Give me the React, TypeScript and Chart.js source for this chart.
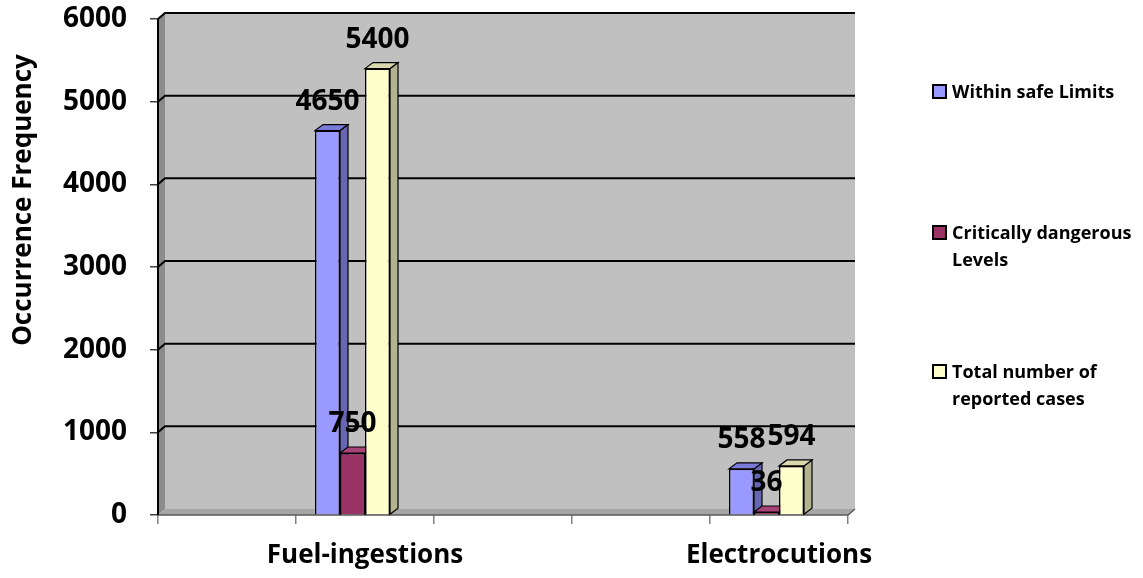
import React, { useEffect, useRef } from "react";
import { Chart, registerables } from "chart.js";

Chart.register(...registerables);

const categories = ["", "Fuel-ingestions", "", "", "Electrocutions"];
const withinSafe = [null, 4650, null, null, 558];
const criticalLevels = [null, 750, null, null, 36];
const totalCases = [null, 5400, null, null, 594];
const spacerSeries = [null, null, null, null, null];
const seriesNames = ["Within safe Limits", "Critically dangerous Levels", "Total number of reported cases"];
const legendLines = [["Within safe Limits"], ["Critically dangerous", "Levels"], ["Total number of", "reported cases"]];
const yTitle = "Occurrence Frequency";
const yMax = 6000;
const yStep = 1000;

const frontColors = ["#9999FF", "#993366", "#FFFFCC"];
const sideColors = ["#6666B3", "#6B2447", "#B3B38F"];
const topColors = ["#7A7AD9", "#A8437A", "#D9D9AD"];

const FONT = "'Open Sans', 'DejaVu Sans', sans-serif";
const WALL = { x: 7, y: -6 };
const DEPTH = { x: 8, y: -6 };

function poly(ctx: CanvasRenderingContext2D, pts: number[][], fill: string, stroke?: string, lw = 1) {
  ctx.beginPath();
  ctx.moveTo(pts[0][0], pts[0][1]);
  for (let i = 1; i < pts.length; i++) ctx.lineTo(pts[i][0], pts[i][1]);
  ctx.closePath();
  ctx.fillStyle = fill;
  ctx.fill();
  if (stroke) {
    ctx.strokeStyle = stroke;
    ctx.lineWidth = lw;
    ctx.stroke();
  }
}

const threeD = {
  id: "threeD",
  beforeDatasetsDraw(chart: any) {
    const { ctx, chartArea } = chart;
    const { left: L, right: R, top: T, bottom: B } = chartArea;
    const ys = chart.scales.y;
    ctx.save();
    ctx.fillStyle = "#C0C0C0";
    ctx.fillRect(L + WALL.x, T + WALL.y, R - L, B - T);
    poly(ctx, [[L, T], [L + WALL.x, T + WALL.y], [L + WALL.x, B + WALL.y], [L, B]], "#8C8C8C");
    poly(ctx, [[L, B], [L + WALL.x, B + WALL.y], [R + WALL.x, B + WALL.y], [R, B]], "#A6A6A6");
    ctx.strokeStyle = "#000000";
    ctx.lineWidth = 2;
    ys.ticks.forEach((t: any) => {
      if (t.value === 0) return;
      const py = ys.getPixelForValue(t.value);
      ctx.beginPath();
      ctx.moveTo(L, py);
      ctx.lineTo(L + WALL.x, py + WALL.y);
      ctx.lineTo(R + WALL.x, py + WALL.y);
      ctx.stroke();
    });
    ctx.strokeStyle = "#595959";
    ctx.lineWidth = 1.5;
    ctx.beginPath();
    ctx.moveTo(L, B);
    ctx.lineTo(R, B);
    ctx.lineTo(R + WALL.x, B + WALL.y);
    ctx.stroke();
    ctx.strokeStyle = "#000000";
    ctx.lineWidth = 2;
    ctx.beginPath();
    ctx.moveTo(L, T);
    ctx.lineTo(L, B);
    ctx.stroke();

    const n = categories.length;
    for (let i = 0; i < n; i++) {
      for (let d = 0; d < 3; d++) {
        const meta = chart.getDatasetMeta(d);
        const v = chart.data.datasets[d].data[i];
        if (v === null || v === undefined) continue;
        const el = meta.data[i];
        const { x, y, base, width } = el.getProps(["x", "y", "base", "width"], true);
        const xl = x - width / 2;
        const xr = x + width / 2;
        poly(ctx, [[xr, y], [xr + DEPTH.x, y + DEPTH.y], [xr + DEPTH.x, base + DEPTH.y], [xr, base]], sideColors[d], "#000", 1.2);
        poly(ctx, [[xl, y], [xr, y], [xr + DEPTH.x, y + DEPTH.y], [xl + DEPTH.x, y + DEPTH.y]], topColors[d], "#000", 1.2);
      }
    }
    ctx.restore();
  },
  afterDatasetsDraw(chart: any) {
    const { ctx } = chart;
    ctx.save();
    ctx.fillStyle = "#000";
    ctx.font = `bold 28px ${FONT}`;
    ctx.textAlign = "center";
    ctx.textBaseline = "middle";
    for (let d = 0; d < 3; d++) {
      const meta = chart.getDatasetMeta(d);
      chart.data.datasets[d].data.forEach((v: any, i: number) => {
        if (v === null || v === undefined) return;
        const el = meta.data[i];
        ctx.fillText(String(v), el.x, el.y - 29);
      });
    }
    ctx.font = `bold 26px ${FONT}`;
    ctx.translate(24, 200);
    ctx.rotate(-Math.PI / 2);
    ctx.fillText(yTitle, 0, 0);
    ctx.restore();
  },
};

export default function App() {
  const ref = useRef<HTMLCanvasElement>(null);
  useEffect(() => {
    let chart: Chart | null = null;
    let cancelled = false;
    const make = () => {
      if (cancelled || !ref.current) return;
      document.body.style.margin = "0";
      chart = new Chart(ref.current, {
        type: "bar",
        data: {
          labels: categories,
          datasets: [
            { label: seriesNames[0], data: withinSafe, backgroundColor: frontColors[0], borderColor: "#000", borderWidth: 1.5 },
            { label: seriesNames[1], data: criticalLevels, backgroundColor: frontColors[1], borderColor: "#000", borderWidth: 1.5 },
            { label: seriesNames[2], data: totalCases, backgroundColor: frontColors[2], borderColor: "#000", borderWidth: 1.5 },
            { label: "", data: spacerSeries, backgroundColor: "rgba(0,0,0,0)" },
          ] as any,
        },
        options: {
          responsive: false,
          animation: false,
          devicePixelRatio: 1,
          layout: { padding: { top: 19, right: 295, left: 0, bottom: 0 } },
          datasets: { bar: { categoryPercentage: 100 / 138, barPercentage: 1 } },
          plugins: { legend: { display: false }, tooltip: { enabled: false } },
          scales: {
            x: {
              afterFit: (s: any) => { s.height = 63; s.paddingLeft = 0; s.paddingRight = 0; },
              grid: { display: true, drawOnChartArea: false, drawTicks: true, tickLength: 9, offset: true, color: "#808080", lineWidth: 1.5 },
              border: { display: false },
              ticks: { autoSkip: false, maxRotation: 0, padding: 16, color: "#000", font: { family: FONT, size: 26, weight: "bold" } },
            },
            y: {
              min: 0,
              max: yMax,
              afterFit: (s: any) => { s.width = 158; s.paddingTop = 0; s.paddingBottom = 0; },
              grid: { display: true, drawOnChartArea: false, drawTicks: true, tickLength: 8, color: "#404040", lineWidth: 1.5 },
              border: { display: false },
              ticks: { stepSize: yStep, padding: 23, color: "#000", font: { family: FONT, size: 28, weight: "bold" }, callback: (v: any) => String(v) },
            },
          },
        } as any,
        plugins: [threeD],
      });
    };
    const fonts: any = (document as any).fonts;
    if (fonts && fonts.load) {
      Promise.all([fonts.load(`bold 26px 'Open Sans'`), fonts.load(`bold 18px 'Open Sans'`)]).then(make, make);
    } else make();
    return () => {
      cancelled = true;
      if (chart) chart.destroy();
    };
  }, []);

  const legendTop = [78, 219, 358];
  return (
    <div style={{ position: "fixed", left: 0, top: 0, width: 1143, height: 578, background: "#fff" }}>
      <canvas ref={ref} width={1143} height={578} style={{ position: "absolute", left: 0, top: 0 }} />
      {legendLines.map((lines, i) => (
        <div key={i} style={{ position: "absolute", left: 932, top: legendTop[i], fontFamily: FONT, fontWeight: 700, fontSize: 18, lineHeight: "27px", color: "#000", whiteSpace: "nowrap" }}>
          <span style={{ position: "absolute", left: 0, top: 6, width: 11, height: 11, background: frontColors[i], border: "2px solid #000" }} />
          <div style={{ marginLeft: 20 }}>
            {lines.map((l, j) => (<div key={j}>{l}</div>))}
          </div>
        </div>
      ))}
    </div>
  );
}
